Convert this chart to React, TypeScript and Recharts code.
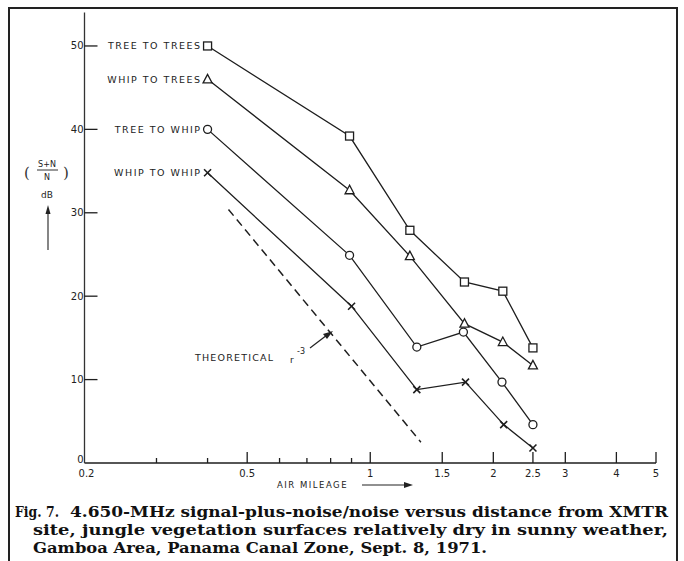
import React from "react";
import { LineChart, Line, XAxis, YAxis } from "recharts";

// ---- data ----
const treeTreesX = [0.4, 0.89, 1.25, 1.7, 2.11, 2.5];
const treeTreesY = [50, 39.2, 27.9, 21.7, 20.6, 13.8];
const whipTreesX = [0.4, 0.89, 1.25, 1.7, 2.11, 2.5];
const whipTreesY = [46, 32.7, 24.8, 16.7, 14.5, 11.7];
const treeWhipX = [0.4, 0.89, 1.3, 1.69, 2.1, 2.5];
const treeWhipY = [40, 24.9, 13.9, 15.7, 9.7, 4.6];
const whipWhipX = [0.4, 0.9, 1.3, 1.71, 2.12, 2.5];
const whipWhipY = [34.8, 18.8, 8.8, 9.7, 4.6, 1.8];
const theoreticalX = [0.45, 1.33];
const theoreticalY = [30.4, 2.5];

const seriesNames = ["TREE TO TREES", "WHIP TO TREES", "TREE TO WHIP", "WHIP TO WHIP"];

const majorXTicks = [0.2, 0.5, 1, 1.5, 2, 2.5, 3, 4, 5];
const majorXTickLabels = ["0.2", "0.5", "1", "1.5", "2", "2.5", "3", "4", "5"];
const minorXTicks = [0.3, 0.4, 0.6, 0.7, 0.8, 0.9];
const yTicks = [0, 10, 20, 30, 40, 50];
const yTickLabels = ["0", "10", "20", "30", "40", "50"];

const zip = (xs: number[], ys: number[]) => xs.map((x, i) => ({ x, y: ys[i] }));

const INK = "#1e1e1e";
const SANS = "'DejaVu Sans', sans-serif";
const SERIF = "'DejaVu Serif', serif";

type MarkerKind = "square" | "triangle" | "circle" | "cross";

const Marker = ({ kind, cx, cy }: { kind: MarkerKind; cx: number; cy: number }) => {
  const sw = 1.3;
  if (kind === "square")
    return <rect x={cx - 4} y={cy - 4} width={8} height={8} fill="#fff" stroke={INK} strokeWidth={sw} />;
  if (kind === "triangle")
    return (
      <polygon
        points={`${cx},${cy - 5} ${cx - 4.5},${cy + 3.5} ${cx + 4.5},${cy + 3.5}`}
        fill="#fff"
        stroke={INK}
        strokeWidth={sw}
      />
    );
  if (kind === "circle") return <circle cx={cx} cy={cy} r={4} fill="#fff" stroke={INK} strokeWidth={sw} />;
  return (
    <g stroke={INK} strokeWidth={1.6}>
      <line x1={cx - 3.5} y1={cy - 3.5} x2={cx + 3.5} y2={cy + 3.5} />
      <line x1={cx - 3.5} y1={cy + 3.5} x2={cx + 3.5} y2={cy - 3.5} />
    </g>
  );
};

const makeDot = (kind: MarkerKind, name: string) => (props: any) => {
  const { cx, cy, index } = props;
  if (cx == null || cy == null) return <g key={`d${index}`} />;
  return (
    <g key={`d-${name}-${index}`}>
      {index === 0 && (
        <text
          x={cx - 6}
          y={cy}
          textAnchor="end"
          dominantBaseline="central"
          fontFamily={SANS}
          fontSize={9.5}
          letterSpacing={1.5}
          fill="#222"
        >
          {name}
        </text>
      )}
      <Marker kind={kind} cx={cx} cy={cy} />
    </g>
  );
};

const XTick = (props: any) => {
  const { x, y, payload } = props;
  const v = payload.value;
  const mi = majorXTicks.indexOf(v);
  const isMajor = mi >= 0;
  return (
    <g>
      {v !== 0.2 && (
        <line x1={x} y1={y} x2={x} y2={y - (isMajor ? 11 : 5)} stroke={INK} strokeWidth={1.3} />
      )}
      {isMajor && (
        <text x={x + (v === 0.2 ? 2 : 0)} y={y + 10} textAnchor="middle" dominantBaseline="central" fontFamily={SANS} fontSize={10} fill="#222">
          {majorXTickLabels[mi]}
        </text>
      )}
    </g>
  );
};

const YTick = (props: any) => {
  const { x, y, payload } = props;
  const v = payload.value;
  const i = yTicks.indexOf(v);
  return (
    <g>
      {v !== 0 && <line x1={x} y1={y} x2={x + 13} y2={y} stroke={INK} strokeWidth={1.3} />}
      <text
        x={x - 1}
        y={v === 0 ? y - 4 : y}
        textAnchor="end"
        dominantBaseline="central"
        fontFamily={SANS}
        fontSize={10}
        fill="#222"
      >
        {yTickLabels[i]}
      </text>
    </g>
  );
};

export default function App() {
  const series: { name: string; data: { x: number; y: number }[]; kind: MarkerKind }[] = [
    { name: seriesNames[0], data: zip(treeTreesX, treeTreesY), kind: "square" },
    { name: seriesNames[1], data: zip(whipTreesX, whipTreesY), kind: "triangle" },
    { name: seriesNames[2], data: zip(treeWhipX, treeWhipY), kind: "circle" },
    { name: seriesNames[3], data: zip(whipWhipX, whipWhipY), kind: "cross" },
  ];
  const theo = zip(theoreticalX, theoreticalY);

  return (
    <div style={{ position: "absolute", left: 0, top: 0, width: 684, height: 561, background: "#fff", overflow: "hidden" }}>
      <div style={{ position: "absolute", left: 0, top: 0 }}>
        <LineChart width={684} height={561} margin={{ left: 83.5, right: 28, top: 12.6, bottom: 97 }}>
          <XAxis
            dataKey="x"
            type="number"
            scale="log"
            domain={[0.2, 5]}
            allowDataOverflow
            ticks={[...majorXTicks, ...minorXTicks].sort((a, b) => a - b)}
            interval={0}
            height={1}
            tickSize={0}
            tickMargin={0}
            axisLine={{ stroke: INK, strokeWidth: 1.5 }}
            tickLine={false}
            tick={(p: any) => <XTick {...p} />}
          />
          <YAxis
            dataKey="y"
            type="number"
            domain={[0, 54]}
            allowDataOverflow
            ticks={yTicks}
            interval={0}
            width={1}
            tickSize={0}
            tickMargin={0}
            axisLine={{ stroke: "#333", strokeWidth: 1.3 }}
            tickLine={false}
            tick={(p: any) => <YTick {...p} />}
          />
          <Line
            data={theo}
            dataKey="y"
            stroke={INK}
            strokeWidth={1.5}
            strokeDasharray="8 5"
            dot={false}
            isAnimationActive={false}
          />
          {series.map((s) => (
            <Line
              key={s.name}
              data={s.data}
              dataKey="y"
              name={s.name}
              stroke={INK}
              strokeWidth={1.3}
              dot={makeDot(s.kind, s.name)}
              activeDot={false}
              isAnimationActive={false}
            />
          ))}
        </LineChart>
      </div>
      <svg width={684} height={561} style={{ position: "absolute", left: 0, top: 0, pointerEvents: "none" }}>
        {/* frame */}
        <rect x={9} y={8} width={668} height={620} fill="none" stroke="#222" strokeWidth={2} />
        {/* y axis title */}
        <text x={24} y={173} fontFamily={SERIF} fontSize={15} fill="#333" dominantBaseline="central">(</text>
        <text x={63} y={173} fontFamily={SERIF} fontSize={15} fill="#333" dominantBaseline="central">)</text>
        <text x={47} y={164} textAnchor="middle" fontFamily={SANS} fontSize={8} fill="#222" dominantBaseline="central">S+N</text>
        <line x1={37} y1={170} x2={58} y2={170} stroke="#333" strokeWidth={1} />
        <text x={47} y={177} textAnchor="middle" fontFamily={SANS} fontSize={8} fill="#222" dominantBaseline="central">N</text>
        <text x={47} y={195} textAnchor="middle" fontFamily={SANS} fontSize={9} fill="#222" dominantBaseline="central">dB</text>
        <line x1={48} y1={250} x2={48} y2={212} stroke="#444" strokeWidth={1.3} />
        <polygon points="48,205 45.5,214 50.5,214" fill="#222" />
        {/* theoretical annotation */}
        <text x={195} y={357} fontFamily={SANS} fontSize={9.5} letterSpacing={1.2} fill="#222" dominantBaseline="central">THEORETICAL</text>
        <text x={290} y={360} fontFamily={SANS} fontSize={9} fill="#222" dominantBaseline="central">r</text>
        <text x={297} y={351} fontFamily={SANS} fontSize={8} fill="#222" dominantBaseline="central">-3</text>
        <line x1={310} y1={348} x2={327} y2={335} stroke="#222" strokeWidth={1.2} />
        <polygon points="333,331 323,334 327,339" fill="#222" />
        {/* x axis title */}
        <text x={277} y={485} fontFamily={SANS} fontSize={8.5} letterSpacing={1.5} fill="#222" dominantBaseline="central">AIR  MILEAGE</text>
        <line x1={362} y1={485} x2={405} y2={485} stroke="#222" strokeWidth={1.2} />
        <polygon points="413,485 404,482 404,488" fill="#222" />
        {/* caption */}
        <g fontFamily={SERIF} fontSize={15.5} fill="#111" fontWeight="bold">
          <text x={15} y={517} textLength={44} lengthAdjust="spacingAndGlyphs">Fig. 7.</text>
          <text x={70} y={517} textLength={598} lengthAdjust="spacingAndGlyphs">4.650-MHz signal-plus-noise/noise versus distance from XMTR</text>
          <text x={33} y={535} textLength={635} lengthAdjust="spacingAndGlyphs">site, jungle vegetation surfaces relatively dry in sunny weather,</text>
          <text x={33} y={553} textLength={454} lengthAdjust="spacingAndGlyphs">Gamboa Area, Panama Canal Zone, Sept. 8, 1971.</text>
        </g>
      </svg>
    </div>
  );
}
